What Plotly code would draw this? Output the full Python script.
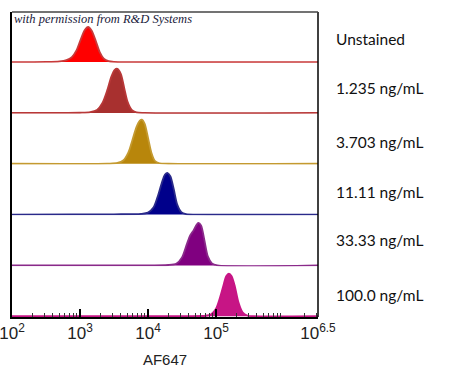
import plotly.graph_objects as go
from plotly.subplots import make_subplots

# ---- data (log10 of AF647 intensity, relative event count) ----
samples = ["Unstained", "1.235 ng/mL", "3.703 ng/mL", "11.11 ng/mL", "33.33 ng/mL", "100.0 ng/mL"]

unstained_x = [2.0, 2.5, 2.7, 2.8, 2.88, 2.95, 3.01, 3.07, 3.12, 3.17, 3.23, 3.29, 3.35, 3.42, 3.5, 3.7, 6.5]
unstained_y = [0, 0.004, 0.015, 0.04, 0.1, 0.24, 0.45, 0.64, 0.70, 0.63, 0.43, 0.2, 0.07, 0.02, 0.005, 0, 0]

c1235_x = [2.0, 3.0, 3.15, 3.25, 3.33, 3.4, 3.46, 3.51, 3.55, 3.6, 3.65, 3.7, 3.76, 3.83, 3.95, 6.5]
c1235_y = [0, 0.003, 0.015, 0.06, 0.2, 0.45, 0.72, 0.86, 0.88, 0.78, 0.5, 0.22, 0.06, 0.01, 0, 0]

c3703_x = [2.0, 3.4, 3.55, 3.64, 3.71, 3.77, 3.83, 3.88, 3.91, 3.95, 4.0, 4.05, 4.1, 4.17, 4.3, 6.5]
c3703_y = [0, 0.003, 0.015, 0.07, 0.22, 0.47, 0.73, 0.86, 0.88, 0.8, 0.52, 0.22, 0.06, 0.01, 0, 0]

c1111_x = [2.0, 2.9, 3.5, 3.9, 4.0, 4.08, 4.14, 4.2, 4.25, 4.29, 4.33, 4.38, 4.43, 4.49, 4.56, 4.7, 6.5]
c1111_y = [0, 0.003, 0.006, 0.015, 0.04, 0.14, 0.35, 0.62, 0.8, 0.83, 0.76, 0.5, 0.2, 0.05, 0.01, 0, 0]

c3333_x = [2.0, 3.5, 4.3, 4.42, 4.5, 4.57, 4.62, 4.67, 4.71, 4.74, 4.78, 4.83, 4.88, 4.94, 5.02, 6.5]
c3333_y = [0, 0.002, 0.008, 0.04, 0.16, 0.42, 0.6, 0.7, 0.8, 0.85, 0.8, 0.5, 0.18, 0.04, 0, 0]

c100_x = [2.0, 4.5, 4.85, 4.93, 5.0, 5.06, 5.11, 5.15, 5.19, 5.23, 5.28, 5.33, 5.39, 5.46, 5.55, 6.5]
c100_y = [0, 0.002, 0.01, 0.04, 0.15, 0.38, 0.62, 0.8, 0.85, 0.8, 0.58, 0.28, 0.08, 0.015, 0, 0]

xs = [unstained_x, c1235_x, c3703_x, c1111_x, c3333_x, c100_x]
ys = [unstained_y, c1235_y, c3703_y, c1111_y, c3333_y, c100_y]

fill_colors = ["#FF0000", "#A8302F", "#B8860B", "#00008B", "#800080", "#C71585"]
line_colors = ["#C83A3A", "#B83838", "#C49A30", "#2A2A8A", "#8A2A8A", "#C71585"]

tick_vals = [2, 3, 4, 5, 6.5]
tick_text = ["10<sup>2</sup>", "10<sup>3</sup>", "10<sup>4</sup>", "10<sup>5</sup>", "10<sup>6.5</sup>"]

fig = make_subplots(rows=6, cols=1, shared_xaxes=True, vertical_spacing=0)

for i in range(6):
    fig.add_trace(go.Scatter(
        x=[10 ** v for v in xs[i]], y=ys[i], mode="lines",
        line=dict(color=line_colors[i], width=1.8, shape="spline", smoothing=0.8),
        fill="tozeroy", fillcolor=fill_colors[i], showlegend=False, hoverinfo="skip",
    ), row=i + 1, col=1)
    fig.update_yaxes(range=[-0.015, 1.0], showticklabels=False, ticks="", showgrid=False,
                     zeroline=False, showline=True, linecolor="black", linewidth=2.2,
                     mirror=False, automargin=False, row=i + 1, col=1)

minor_vals = [m * 10 ** d for d in range(2, 7) for m in range(2, 10) if m * 10 ** d < 10 ** 6.5]

fig.update_xaxes(type="log", range=[2, 6.5], showgrid=False, zeroline=False, showline=False,
                 ticks="", showticklabels=False, automargin=False)
fig.update_xaxes(row=6, col=1, showline=True, linecolor="black", linewidth=2,
                 layer="above traces",
                 tickmode="array", tickvals=[10 ** v for v in tick_vals], ticktext=tick_text,
                 ticks="inside", ticklen=8, tickwidth=1.5, tickcolor="black",
                 ticklabeloverflow="allow",
                 showticklabels=True, tickfont=dict(family="Liberation Sans, Arial", size=17, color="#222"),
                 minor=dict(tickmode="array", tickvals=minor_vals, ticks="inside", ticklen=4,
                            tickwidth=1, tickcolor="#333"),
                 title=dict(text="AF647", font=dict(family="Liberation Sans, Arial", size=15, color="#222"),
                            standoff=12))

# right-hand frame and top border
fig.add_shape(type="line", xref="paper", yref="paper", x0=1, x1=1, y0=0, y1=1,
              line=dict(color="black", width=1.5))
fig.add_shape(type="line", xref="paper", yref="paper", x0=0, x1=1, y0=1, y1=1,
              line=dict(color="#444", width=1.5))

label_y = [39, 88, 142, 192, 240, 295]
for name, py in zip(samples, label_y):
    fig.add_annotation(text=name, xref="paper", yref="paper", x=1, xshift=16,
                       y=1 - (py - 12) / 305, xanchor="left", yanchor="middle", showarrow=False,
                       font=dict(family="Lato, Open Sans", size=15.5, color="#111"))

fig.add_annotation(text="<i>with permission from R&amp;D Systems</i>", xref="paper", yref="paper",
                   x=0, y=1, xanchor="left", yanchor="top", yshift=2, showarrow=False,
                   font=dict(family="Liberation Serif", size=12.5, color="#1a1a3a"))

fig.update_layout(width=450, height=382, margin=dict(l=12, r=132, t=12, b=65),
                  paper_bgcolor="white", plot_bgcolor="white")

fig.write_html("out.html", config={"displayModeBar": False},
               post_script="document.body.style.margin='0px';")
